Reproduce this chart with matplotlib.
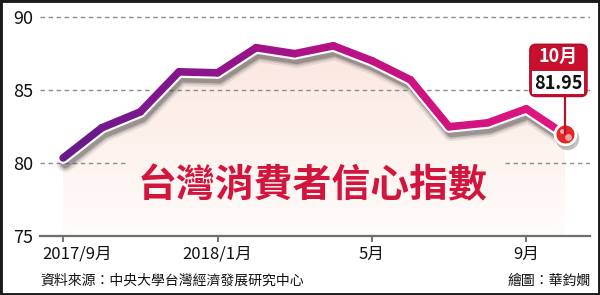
import numpy as np
import matplotlib
matplotlib.use('Agg')
import matplotlib.pyplot as plt
from matplotlib.collections import LineCollection
from matplotlib.colors import LinearSegmentedColormap
from matplotlib.patches import FancyBboxPatch, Rectangle, Polygon
import matplotlib.transforms as mtransforms

plt.rcParams['font.family'] = ['Noto Sans CJK TC', 'DejaVu Sans']

# ---- data ----
months = ['2017/9', '2017/10', '2017/11', '2017/12', '2018/1', '2018/2', '2018/3',
          '2018/4', '2018/5', '2018/6', '2018/7', '2018/8', '2018/9', '2018/10']
values = [80.34, 82.40, 83.49, 86.23, 86.16, 87.88, 87.47,
          88.01, 86.99, 85.68, 82.47, 82.74, 83.70, 81.95]
tick_idx = [0, 4, 8, 12]
tick_labels = ['2017/9月', '2018/1月', '5月', '9月']
y_ticks = [75, 80, 85, 90]
title = '台灣消費者信心指數'
source = '資料來源：中央大學台灣經濟發展研究中心'
credit = '繪圖：華鈞嫺'
last_month_label = '10月'
last_value_label = '81.95'

DPI = 100
fig = plt.figure(figsize=(6, 2.95), dpi=DPI)
fig.patch.set_facecolor('white')
ax = fig.add_axes([40 / 600, 1 - 236 / 295, 550 / 600, (236 - 5) / 295])
ax.set_facecolor('none')
x = np.arange(len(values))
vals = np.array(values)

# ---- gradient fill under curve ----
verts = list(zip(x, vals)) + [(x[-1], 75), (x[0], 75)]
poly = Polygon(verts, closed=True, facecolor='none', edgecolor='none')
ax.add_patch(poly)
grad = np.linspace(1, 0, 256).reshape(-1, 1)
cmap_fill = LinearSegmentedColormap.from_list('f', ['#fffcfb', '#fbe7de'])
im = ax.imshow(grad, extent=[x[0], x[-1], 75, vals.max()], aspect='auto',
               cmap=cmap_fill, origin='upper', zorder=1, interpolation='bilinear')
im.set_clip_path(poly)

ax.set_xlim(-0.6, 13.65)
ax.set_ylim(75, 90.8)

# ---- grid lines ----
grid_kw = dict(color='#8c8c8c', lw=1.0, dashes=(3.2, 2.6), zorder=2)
for v in y_ticks[1:]:
    if v == 80:
        ax.plot([-0.6, 1.6], [v, v], **grid_kw)
        ax.plot([11.45, 13.65], [v, v], **grid_kw)
    else:
        ax.plot([-0.6, 13.65], [v, v], **grid_kw)

# ---- shadow ----
for lw, a in [(12, 0.10), (9, 0.18), (6.5, 0.30)]:
    tr = mtransforms.offset_copy(ax.transData, fig=fig, x=2, y=-6, units='dots')
    ax.plot(x, vals, color='#333333', lw=lw, alpha=a, transform=tr,
            solid_joinstyle='round', solid_capstyle='round', zorder=3)

# white outline
ax.plot(x, vals, color='white', lw=8.6, solid_joinstyle='round',
        solid_capstyle='round', zorder=4)

# ---- gradient main line ----
pts = np.column_stack([x, vals])
segs = np.stack([pts[:-1], pts[1:]], axis=1)
cmap_line = LinearSegmentedColormap.from_list(
    'l', ['#6a198a', '#8a158c', '#ad1287', '#cf127f', '#dc1580'])
pos = np.linspace(0, 1, len(segs))
lc = LineCollection(segs, colors=cmap_line(pos), linewidths=5.5,
                    capstyle='round', joinstyle='round', zorder=5)
ax.add_collection(lc)

# ---- end marker ----
trm = mtransforms.offset_copy(ax.transData, fig=fig, x=2, y=-4, units='dots')
ax.plot(x[-1], vals[-1], 'o', ms=17, color='#555', alpha=0.35, transform=trm,
        zorder=6, mew=0)
ax.plot(x[-1], vals[-1], 'o', ms=15, mfc='#e2262a', mec='white', mew=2.0, zorder=8)
for dx, dy, ms, c in [(-3, 3, 3.5, '#f6b0a8'), (3, -3, 5, '#f3a39b')]:
    trh = mtransforms.offset_copy(ax.transData, fig=fig, x=dx, y=dy, units='dots')
    ax.plot(x[-1], vals[-1], 'o', ms=ms, color=c, mew=0, transform=trh, zorder=9)

# ---- axes styling ----
for s in ['top', 'right', 'left']:
    ax.spines[s].set_visible(False)
ax.spines['bottom'].set_color('#6e6e6e')
ax.spines['bottom'].set_linewidth(1.6)
ax.spines['bottom'].set_zorder(2)
ax.set_xticks(tick_idx)
ax.set_xticklabels(tick_labels)
ax.set_yticks(y_ticks)
ax.set_yticklabels([str(v) for v in y_ticks])
ax.tick_params(axis='x', direction='out', length=4, width=1.5, color='#777777',
               pad=3, labelsize=12, labelcolor='#111111')
ax.tick_params(axis='y', length=0, pad=5, labelsize=13, labelcolor='#111111')
first = ax.get_xticklabels()[0]
first.set_ha('left')
first.set_transform(first.get_transform() +
                    mtransforms.ScaledTranslation(-21 / DPI, 0, fig.dpi_scale_trans))

# ---- title ----
ax.text(6.45, 78.45, title, fontsize=28, fontweight='bold', color='#d3143d',
        ha='center', va='center', zorder=7)

# ---- callout ----
fig.canvas.draw()
mx, my = ax.transData.transform((x[-1], vals[-1]))
ident = mtransforms.IdentityTransform()
fig.add_artist(plt.Line2D([mx, mx], [my, my + 38], color='#b5132f', lw=1.6,
                          transform=ident, zorder=7))
bx0, bx1 = mx - 35, mx + 22
by0, bmid, by1 = my + 38, my + 64, my + 90
outer = FancyBboxPatch((bx0, by0), bx1 - bx0, by1 - by0,
                       boxstyle='round,pad=0,rounding_size=6',
                       facecolor='#c8102e', edgecolor='#b0102c', lw=1.2,
                       transform=ident, zorder=10)
fig.add_artist(outer)
inner = Rectangle((bx0 + 2.5, by0 + 2.5), (bx1 - bx0) - 5, (bmid - by0) - 3.5,
                  facecolor='white', edgecolor='none', transform=ident, zorder=11)
fig.add_artist(inner)
fig.text((bx0 + bx1) / 2 / 600, (bmid + by1) / 2 / 295 + 0.002, last_month_label,
         fontsize=13, fontweight='heavy', color='white', ha='center', va='center',
         zorder=12)
fig.text((bx0 + bx1) / 2 / 600, (by0 + bmid) / 2 / 295, last_value_label,
         fontsize=13, fontweight='heavy', color='#111111', ha='center', va='center',
         zorder=12)

# ---- footer ----
fig.text(40 / 600, 1 - 281 / 295, source, fontsize=10, ha='left', va='center',
         color='#111111')
fig.text(591 / 600, 1 - 281 / 295, credit, fontsize=10, ha='right', va='center',
         color='#111111')

# ---- border ----
fig.add_artist(Rectangle((0, 0), 1, 1, transform=fig.transFigure, fill=False,
                         edgecolor='#1a1a1a', lw=3.5, zorder=20))

fig.savefig('out.png', dpi=DPI)
